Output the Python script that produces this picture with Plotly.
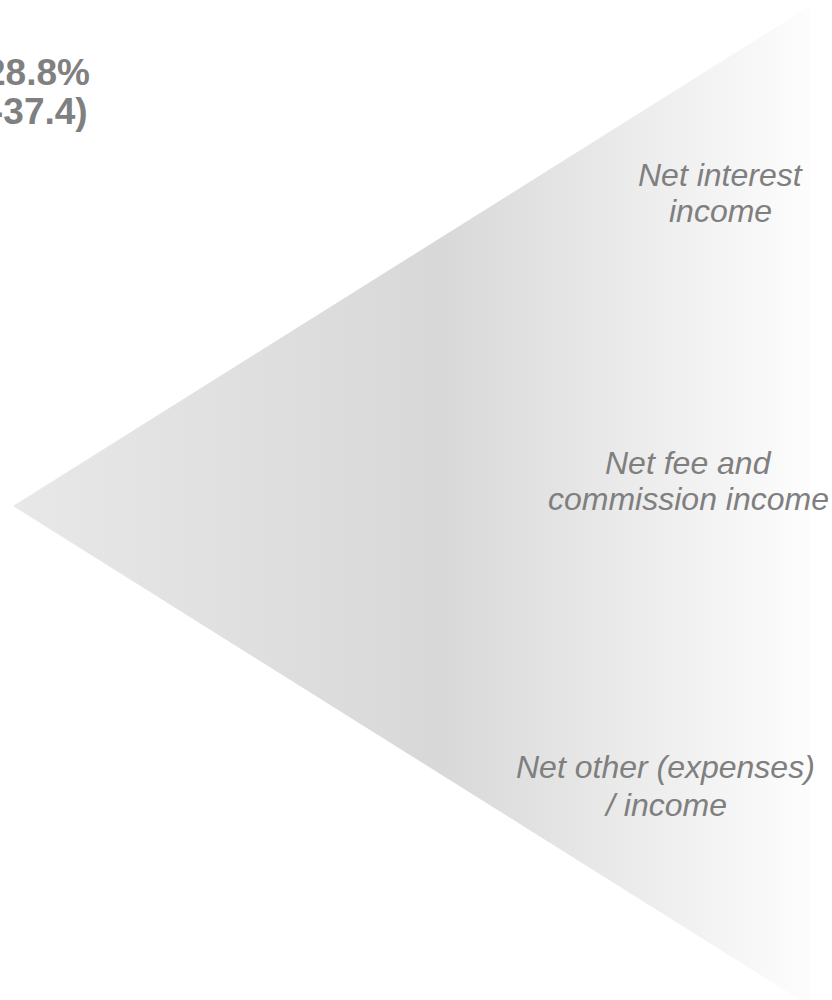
import plotly.graph_objects as go

# Decorative wedge (pixel-space vertices on a 832x1000 canvas)
wedge_x = [13, 810, 810, 13]
wedge_y = [506, 6, 1006, 506]
wedge_colors = [[0.0, "#e8e8e8"], [0.535, "#d8d8d8"], [1.0, "#fdfdfd"]]

# Segment labels (each line separately)
label_lines = ["Net interest", "income",
               "Net fee and", "commission income",
               "Net other (expenses)", "/ income"]
label_x = [720, 720, 688, 688, 665, 665]
label_y = [175, 211, 463, 499, 767, 805]

# Headline figures (partially cut at the left edge)
head_lines = ["28.8%", "-37.4)"]
head_x = [92, 90]
head_y = [72, 111]

fig = go.Figure()
fig.add_trace(go.Scatter(
    x=wedge_x, y=wedge_y, mode="lines", fill="toself",
    line=dict(width=0, color="rgba(0,0,0,0)"),
    fillgradient=dict(type="horizontal", colorscale=wedge_colors),
    hoverinfo="skip", showlegend=False,
))

annotations = []
for t, x, y in zip(label_lines, label_x, label_y):
    annotations.append(dict(
        text=f"<i>{t}</i>", x=x, y=y, xref="x", yref="y",
        xanchor="center", yanchor="middle", showarrow=False,
        font=dict(family="Liberation Sans, Arial", size=32, color="#7f7f7f"),
    ))
for t, x, y in zip(head_lines, head_x, head_y):
    annotations.append(dict(
        text=f"<b>{t}</b>", x=x, y=y, xref="x", yref="y",
        xanchor="right", yanchor="middle", showarrow=False,
        font=dict(family="Liberation Sans, Arial", size=37, color="#808080"),
    ))

fig.update_layout(
    width=832, height=1000,
    margin=dict(l=0, r=0, t=0, b=0),
    paper_bgcolor="white", plot_bgcolor="white",
    xaxis=dict(range=[0, 832], visible=False, fixedrange=True),
    yaxis=dict(range=[1000, 0], visible=False, fixedrange=True),
    annotations=annotations,
    showlegend=False,
)
fig.write_html(
    "out.html",
    config={"displayModeBar": False},
    post_script="document.body.style.margin='0';document.body.style.overflow='hidden';",
)
